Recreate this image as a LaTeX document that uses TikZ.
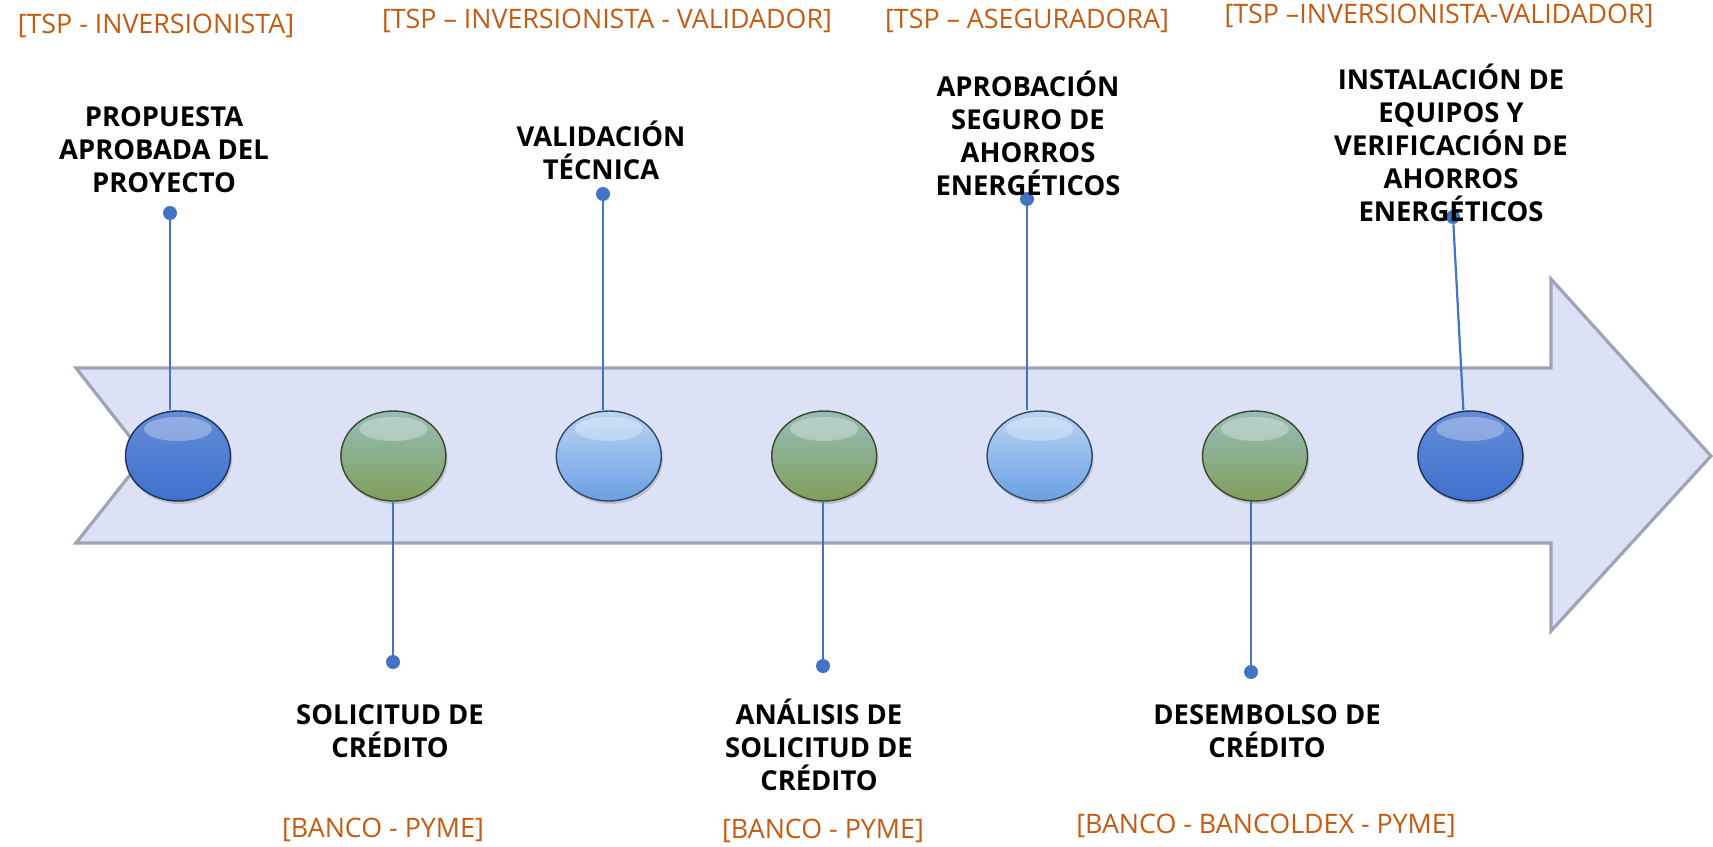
\documentclass[tikz,border=0pt]{standalone}
\usepackage{fontspec}
\setmainfont{Open Sans}
\usetikzlibrary{shapes.geometric, positioning, shadows}

\definecolor{stem}{RGB}{68,114,196}
\definecolor{tagcol}{RGB}{197,90,17}
\definecolor{shaft}{RGB}{220,225,245}
\definecolor{shaftedge}{RGB}{158,163,181}
\definecolor{darkblue}{RGB}{62,112,205}
\definecolor{lightblue}{RGB}{105,160,228}
\definecolor{olive}{RGB}{128,158,92}
\definecolor{olivetop}{RGB}{150,190,185}

\begin{document}
\begin{tikzpicture}[x=0.5pt, y=-0.5pt, ball/.style={ellipse,
            minimum width=52.5pt, minimum height=45pt, inner sep=0pt,
            line width=0.7pt, drop shadow={shadow xshift=0.8pt,
            shadow yshift=-1.5pt, opacity=0.35}, path picture={\fill[white,
            opacity=0.3] ([yshift=-9pt]path picture bounding box.north)
            ellipse (17pt and 6pt);}}, darkball/.style={ball,
            draw=darkblue!45!black, top color=darkblue!80!white,
            bottom color=darkblue}, lightball/.style={ball,
            draw=lightblue!45!black, top color=lightblue!45!white,
            bottom color=lightblue}, greenball/.style={ball,
            draw=olive!45!black, top color=olivetop, bottom
            color=olive}, dot/.style={circle, fill=stem, inner sep=0pt,
            minimum size=7pt}, stemline/.style={stem, line width=1.1pt},
        step label/.style={align=center, font=\bfseries\fontsize{13.7}{16.5}\selectfont},
        tag/.style={text=tagcol, font=\fontsize{13.4}{16}\selectfont}, ]

        \useasboundingbox (0,0) rectangle (1713,846);

        \draw[fill=shaft, draw=shaftedge, line width=1.6pt,
        line join=miter] (76,368) -- (1551,368) -- (1551,279) --
        (1711,456) -- (1551,631) -- (1551,543) -- (76,543) --
        (145,456) -- cycle;

        \node[darkball] (c1) at (178,456) {};
        \node[greenball] (c2) [right=54.5pt of c1] {};
        \node[lightball] (c3) [right=54.5pt of c2] {};
        \node[greenball] (c4) [right=54.5pt of c3] {};
        \node[lightball] (c5) [right=54.5pt of c4] {};
        \node[greenball] (c6) [right=54.5pt of c5] {};
        \node[darkball] (c7) [right=54.5pt of c6] {};

        \node[dot] (d1) at (170,213) {};
        \node[dot] (d2) at (393,662) {};
        \node[dot] (d3) at (603,194) {};
        \node[dot] (d4) at (823,666) {};
        \node[dot] (d5) at (1027,199) {};
        \node[dot] (d6) at (1251,672) {};
        \node[dot] (d7) at (1453,217) {};

        \draw[stemline] (d1) -- (d1 |- c1.north);
        \draw[stemline] (d2) -- (d2 |- c2.south);
        \draw[stemline] (d3) -- (d3 |- c3.north);
        \draw[stemline] (d4) -- (d4 |- c4.south);
        \draw[stemline] (d5) -- (d5 |- c5.north);
        \draw[stemline] (d6) -- (d6 |- c6.south);
        \draw[stemline] (d7) -- ([xshift=-3.5pt]c7.north);

        \node[step label] (propuesta) at (164,150)
        {PROPUESTA\\APROBADA DEL\\PROYECTO};
        \node[step label] (solicitud) at (390,731)
        {SOLICITUD DE\\CRÉDITO};
        \node[step label] (validacion) at (601,150)
        {VALIDACIÓN\\TÉCNICA};
        \node[step label] (analisis) at (819,745)
        {ANÁLISIS DE\\SOLICITUD DE\\CRÉDITO};
        \node[step label] (seguro) at (1028,133)
        {APROBACIÓN\\SEGURO DE\\AHORROS\\ENERGÉTICOS};
        \node[step label] (desembolso) at (1267,731)
        {DESEMBOLSO DE\\CRÉDITO};
        \node[step label] (instalacion) at (1451,143)
        {INSTALACIÓN DE\\EQUIPOS Y\\VERIFICACIÓN DE\\AHORROS\\ENERGÉTICOS};

        \node[tag] (tag1) at (156,26) {[TSP - INVERSIONISTA]};
        \node[tag] (tag2) at (383,830) {[BANCO - PYME]};
        \node[tag] (tag3) at (607,21) {[TSP – INVERSIONISTA - VALIDADOR]};
        \node[tag] (tag4) at (823,831) {[BANCO - PYME]};
        \node[tag] (tag5) at (1027,21) {[TSP – ASEGURADORA]};
        \node[tag] (tag6) at (1266,826) {[BANCO - BANCOLDEX - PYME]};
        \node[tag] (tag7) at (1439,16) {[TSP –INVERSIONISTA-VALIDADOR]};
    \end{tikzpicture}
\end{document}
